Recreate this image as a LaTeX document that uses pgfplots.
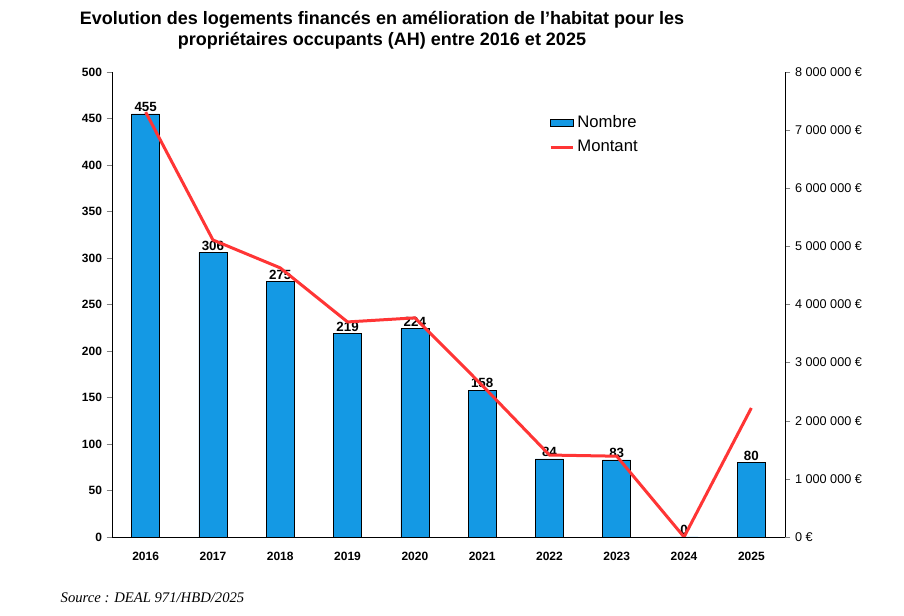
\documentclass[border=0pt]{standalone}
\usepackage{pgfplots}
\pgfplotsset{compat=1.18}
\usepackage{fontspec}
\setmainfont{Liberation Sans}
\newfontfamily\serifit{Liberation Serif}
\definecolor{barblue}{HTML}{1499E4}
\definecolor{linered}{HTML}{FF3535}
\begin{document}
\begin{tikzpicture}[x=0.75pt,y=0.75pt]
\useasboundingbox (-112,-79) rectangle (792,537);
\begin{axis}[at={(0,0)},anchor=south west,scale only axis,width=504.75pt,height=348.75pt,
 xmin=-0.5,xmax=9.5,ymin=0,ymax=500,
 axis x line*=bottom, axis y line*=left,
 xtick={0,...,9}, xticklabels={2016,2017,2018,2019,2020,2021,2022,2023,2024,2025},
 ytick={0,50,...,500}, tick align=outside, major tick length=4pt,
 x tick style={draw=none},
 tick label style={font=\fontsize{9}{10}\selectfont\bfseries},
 /pgf/number format/assume math mode=true,
 xticklabel style={yshift=-4pt},
 legend style={at={(0.643,0.918)},anchor=north west,draw=none,fill=none,font=\fontsize{12.5}{15}\selectfont,row sep=4pt},
 legend cell align=left,
 clip=false]
\addplot[ybar,bar width=21pt,fill=barblue,draw=black,area legend,
  nodes near coords,nodes near coords style={font=\fontsize{10}{12}\selectfont\bfseries,yshift=-2pt}]
 coordinates {(0,455)(1,306)(2,275)(3,219)(4,224)(5,158)(6,84)(7,83)(8,0)(9,80)};
\addlegendentry{Nombre}
\addlegendimage{linered,line width=2.25pt}
\addlegendentry{Montant}
\end{axis}
\begin{axis}[at={(0,0)},anchor=south west,scale only axis,width=504.75pt,height=348.75pt,
 xmin=-0.5,xmax=9.5,ymin=0,ymax=8000000,
 axis x line=none, axis y line*=right,
 ytick={0,1000000,...,8000000},
 yticklabels={0 €,1 000 000 €,2 000 000 €,3 000 000 €,4 000 000 €,5 000 000 €,6 000 000 €,7 000 000 €,8 000 000 €},
 tick align=outside, major tick length=4pt,
 tick label style={font=\fontsize{9.5}{10}\selectfont},
 scaled y ticks=false]
\addplot[linered,line width=2.25pt] coordinates {(0,7310000)(1,5110000)(2,4630000)(3,3700000)(4,3770000)(5,2610000)(6,1410000)(7,1390000)(8,0)(9,2220000)};
\end{axis}
\node[font=\fontsize{13.5}{16}\selectfont\bfseries,align=center] at (270,507) {Evolution des logements financés en amélioration de l'habitat pour les\\propriétaires occupants (AH) entre 2016 et 2025};
\node[anchor=west,font=\serifit\itshape\fontsize{11}{13}\selectfont] at (-56,-61) {Source : DEAL 971/HBD/2025};
\end{tikzpicture}
\end{document}
